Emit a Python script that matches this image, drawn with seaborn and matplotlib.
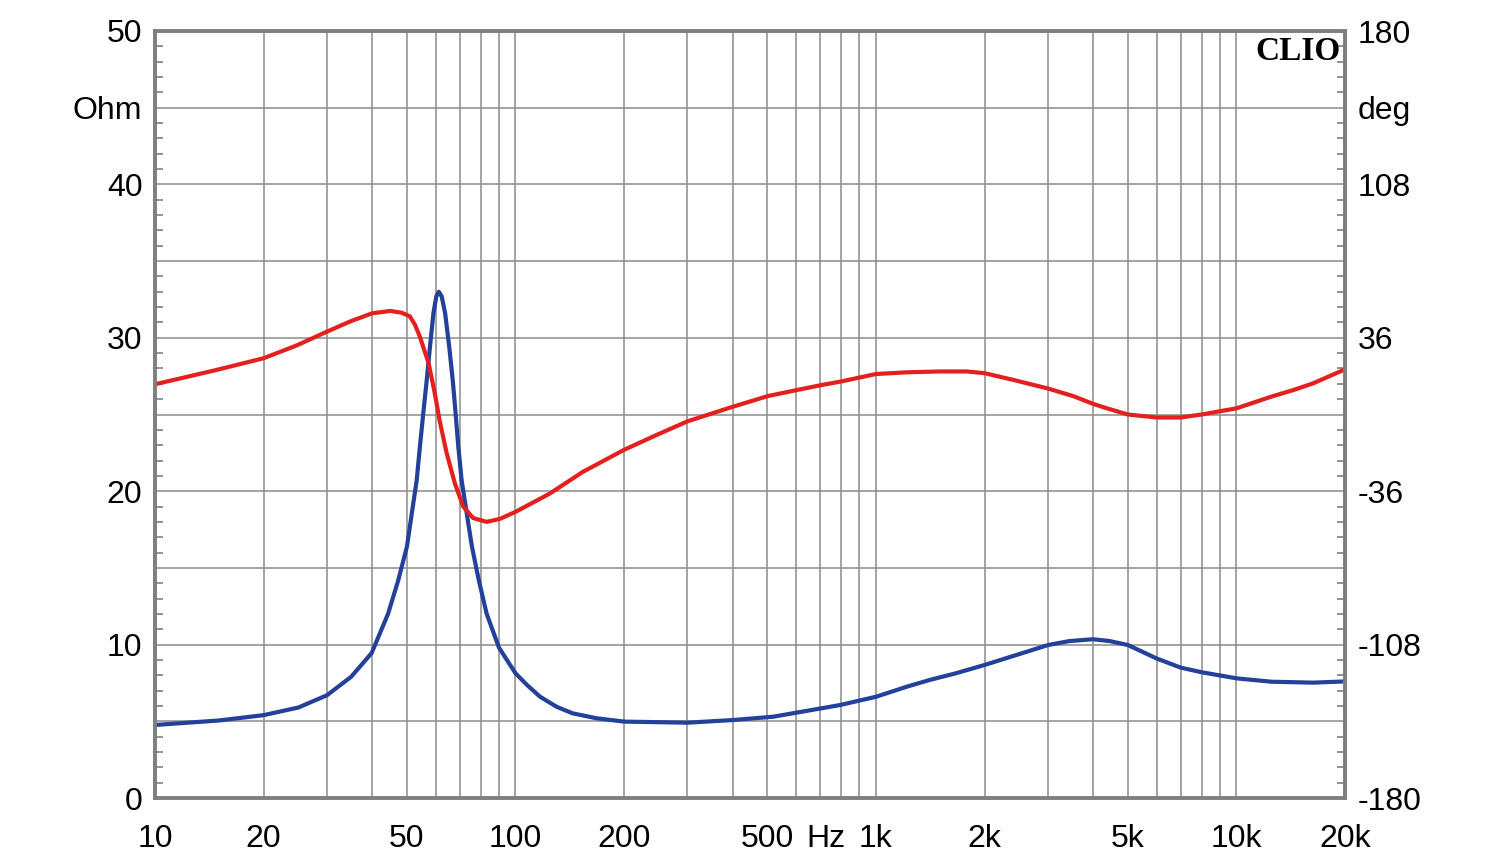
import numpy as np
import pandas as pd
import matplotlib
matplotlib.use("Agg")
import matplotlib.pyplot as plt
import seaborn as sns
from matplotlib.ticker import FixedLocator, MultipleLocator

# ---------------- data ----------------
imp_freq = [10, 15, 20, 25, 30, 35, 39.9, 44.3, 47.3, 50, 51.6, 53.2, 54.3, 55.5,
            56.7, 57.9, 59.2, 60.3, 61.3, 62.4, 63.8, 65.5, 67, 68.2, 69.4, 70.9,
            73.3, 75.7, 79.1, 83.2, 90, 100, 107.6, 117, 130, 144, 167.6, 200, 300,
            400, 519, 795, 1000, 1219, 1412, 1665, 2000, 2450, 3000, 3440, 4000,
            4450, 5000, 6000, 7000, 8000, 10000, 12500, 16300, 20000]
imp_ohm = [4.76, 5.05, 5.4, 5.9, 6.7, 7.9, 9.45, 12.0, 14.2, 16.4, 18.6, 20.7,
           22.9, 25.1, 27.2, 29.4, 31.6, 32.7, 33.0, 32.7, 31.6, 29.4, 27.2, 25.1,
           22.9, 20.7, 18.5, 16.4, 14.2, 12.0, 9.8, 8.13, 7.37, 6.6, 5.95, 5.52,
           5.2, 4.98, 4.91, 5.08, 5.3, 6.06, 6.6, 7.26, 7.7, 8.13, 8.67, 9.32,
           9.97, 10.23, 10.35, 10.23, 9.97, 9.1, 8.5, 8.2, 7.8, 7.58, 7.52, 7.6]

ph_freq = [10, 12, 14.8, 20, 24.7, 30, 34.7, 40, 44.9, 48.3, 50.9, 52.6, 54.3,
           57.4, 59.7, 61.6, 64.4, 67.9, 71.6, 76.3, 83.2, 90.5, 100, 124.5,
           153.5, 200, 247, 300, 400, 500, 600, 700, 800, 1000, 1219, 1500, 1782,
           2000, 2410, 3000, 3530, 4000, 4370, 5000, 6000, 7000, 8000, 10000,
           12500, 14400, 16300, 20000]
ph_deg = [14.2, 17.3, 20.9, 26.4, 32.4, 38.9, 43.6, 47.5, 48.6, 47.8, 46.1, 42.2,
          36.5, 24.1, 10.1, -2.9, -18.0, -32.4, -43.2, -48.6, -50.4, -49.0, -45.7,
          -37.1, -27.0, -16.6, -9.5, -3.2, 3.6, 8.6, 11.4, 13.7, 15.5, 19.0, 19.8,
          20.2, 20.2, 19.4, 16.2, 12.2, 8.6, 5.0, 2.9, 0.0, -1.4, -1.4, 0.0, 2.9,
          8.4, 11.5, 14.6, 21.2]

x_ticks = [10, 20, 50, 100, 200, 500, 1000, 2000, 5000, 10000, 20000]
x_labels = ["10", "20", "50", "100", "200", "500", "1k", "2k", "5k", "10k", "20k"]
left_ticks = [0, 10, 20, 30, 40, 45, 50]
left_labels = ["0", "10", "20", "30", "40", "Ohm", "50"]
right_ticks = [-180, -108, -36, 36, 108, 144, 180]
right_labels = ["-180", "-108", "-36", "36", "108", "deg", "180"]

imp_df = pd.DataFrame({"freq": imp_freq, "ohm": imp_ohm})
ph_df = pd.DataFrame({"freq": ph_freq, "deg": ph_deg})

# ---------------- style ----------------
sns.set_theme(style="white")
plt.rcParams["font.family"] = ["Liberation Sans", "DejaVu Sans"]

BLUE = "#23409a"
RED = "#e3201e"
GRID = "#8c8c8c"
SPINE = "#7f7f7f"
FS = 23

fig = plt.figure(figsize=(15, 8.64), dpi=100)
fig.patch.set_facecolor("white")
ax = fig.add_axes([155 / 1500, 1 - 798 / 864, 1190 / 1500, 767 / 864])
ax2 = ax.twinx()

sns.lineplot(data=imp_df, x="freq", y="ohm", ax=ax, color=BLUE, lw=3,
             sort=False, estimator=None)
sns.lineplot(data=ph_df, x="freq", y="deg", ax=ax2, color=RED, lw=3,
             sort=False, estimator=None)

ax.set_xscale("log")
ax.set_xlim(10, 20000)
ax.set_ylim(0, 50)
ax2.set_ylim(-180, 180)

# x grid: every 1..9 x decade
grid_x = [m * 10 ** d for d in range(1, 5) for m in range(1, 10) if m * 10 ** d <= 20000]
ax.xaxis.set_major_locator(FixedLocator(grid_x))
ax.xaxis.set_minor_locator(FixedLocator([]))
ax.set_xticklabels([x_labels[x_ticks.index(v)] if v in x_ticks else "" for v in grid_x],
                   fontsize=FS)

# left y: grid every 5, labels
ly = list(range(0, 51, 5))
ax.yaxis.set_major_locator(FixedLocator(ly))
ax.set_yticklabels([left_labels[left_ticks.index(v)] if v in left_ticks else "" for v in ly],
                   fontsize=FS)
ax.yaxis.set_minor_locator(MultipleLocator(1))

# right y
ry = list(range(-180, 181, 36))
ax2.yaxis.set_major_locator(FixedLocator(ry))
ax2.set_yticklabels([right_labels[right_ticks.index(v)] if v in right_ticks else "" for v in ry],
                    fontsize=FS)
ax2.yaxis.set_minor_locator(MultipleLocator(7.2))

ax.grid(True, which="major", axis="both", color=GRID, lw=1.1)
ax2.grid(False)
ax.set_axisbelow(True)

ax.tick_params(axis="x", which="major", length=0, pad=19, labelcolor="black",
               labelsize=FS, bottom=True)
ax.tick_params(axis="y", which="major", length=0, pad=9, left=True,
               labelsize=FS, labelcolor="black")
ax.tick_params(axis="y", which="minor", direction="in", length=6, width=1.2,
               color=SPINE, left=True, right=False)
ax2.tick_params(axis="y", which="major", length=0, pad=9, right=True,
                labelsize=FS, labelcolor="black")
ax2.tick_params(axis="y", which="minor", direction="in", length=6, width=1.2,
                color=SPINE, right=True, left=False)

for a in (ax, ax2):
    a.set_xlabel("")
    a.set_ylabel("")
    for s in a.spines.values():
        s.set_color(SPINE)
        s.set_linewidth(2.6)
        s.set_visible(True)

# "Hz" unit next to the 500 label
ax.annotate("Hz", xy=(500, 0), xycoords=("data", "axes fraction"),
            xytext=(28, -19), textcoords="offset points",
            ha="left", va="top", fontsize=FS, color="black")

ax2.text(0.996, 0.994, "CLIO", transform=ax.transAxes, ha="right", va="top",
         fontsize=24, fontweight="bold", family=["Liberation Serif", "DejaVu Serif"],
         color="black")

fig.savefig("out.png", dpi=100, facecolor="white")
